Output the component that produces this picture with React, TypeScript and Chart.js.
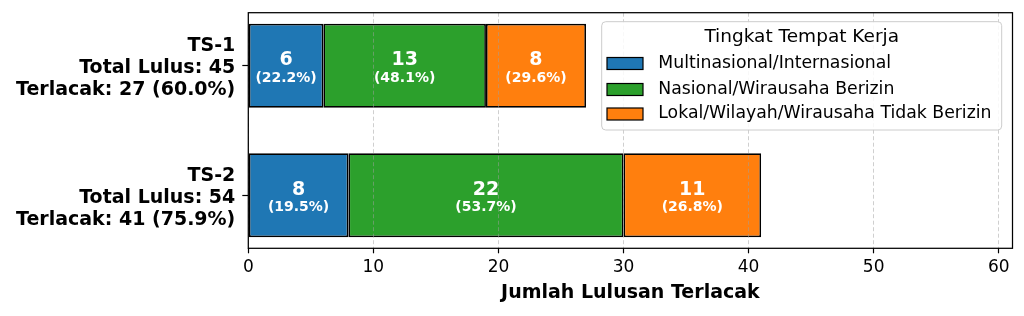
import { useEffect, useRef } from 'react';
import { Chart, registerables } from 'chart.js';

Chart.register(...registerables);

const categories = ['TS-1', 'TS-2'];
const totalLulus = [45, 54];
const seriesNames = [
  'Multinasional/Internasional',
  'Nasional/Wirausaha Berizin',
  'Lokal/Wilayah/Wirausaha Tidak Berizin',
];
const multinasional = [6, 8];
const nasional = [13, 22];
const lokal = [8, 11];
const seriesColors = ['#1f77b4', '#2ca02c', '#ff7f0e'];
const xTickValues = [0, 10, 20, 30, 40, 50, 60];
const xMax = 61.1;
const legendTitle = 'Tingkat Tempat Kerja';
const xTitle = 'Jumlah Lulusan Terlacak';

const FONT = "'DejaVu Sans', sans-serif";

const seriesValues = [multinasional, nasional, lokal];
const tracked = categories.map((_, i) => seriesValues.reduce((s, arr) => s + arr[i], 0));
const yLabels = categories.map((c, i) => [
  c,
  `Total Lulus: ${totalLulus[i]}`,
  `Terlacak: ${tracked[i]} (${((tracked[i] / totalLulus[i]) * 100).toFixed(1)}%)`,
]);

const overlayPlugin = {
  id: 'overlay',
  afterDraw(chart: any) {
    const ctx = chart.ctx as CanvasRenderingContext2D;
    const area = chart.chartArea;
    ctx.save();
    // bar labels
    chart.data.datasets.forEach((ds: any, di: number) => {
      const meta = chart.getDatasetMeta(di);
      meta.data.forEach((el: any, i: number) => {
        const v = seriesValues[di][i];
        const pct = ((v / tracked[i]) * 100).toFixed(1);
        const cx = (el.x + el.base) / 2;
        const cy = el.y;
        ctx.fillStyle = '#ffffff';
        ctx.textAlign = 'center';
        ctx.textBaseline = 'middle';
        ctx.font = `bold 19px ${FONT}`;
        ctx.fillText(String(v), cx, cy - 5.5);
        ctx.font = `bold 14px ${FONT}`;
        ctx.fillText(`(${pct}%)`, cx, cy + 12.2);
      });
    });
    // spines
    ctx.strokeStyle = '#000';
    ctx.lineWidth = 1.25;
    ctx.strokeRect(area.left, area.top, area.right - area.left, area.bottom - area.top);

    // legend
    const lx = 601.7, ly = 21.7, lw = 400, lh = 108.3;
    ctx.beginPath();
    (ctx as any).roundRect(lx, ly, lw, lh, 4);
    ctx.fillStyle = 'rgba(255,255,255,0.85)';
    ctx.fill();
    ctx.strokeStyle = '#cccccc';
    ctx.lineWidth = 1;
    ctx.stroke();
    ctx.fillStyle = '#000';
    ctx.textAlign = 'center';
    ctx.textBaseline = 'middle';
    ctx.font = `18.5px ${FONT}`;
    ctx.fillText(legendTitle, lx + lw / 2, 37);
    const rowY = [63.5, 89.5, 114];
    seriesNames.forEach((name, i) => {
      const y = rowY[i];
      ctx.fillStyle = seriesColors[i];
      ctx.fillRect(607, y - 6, 36, 12);
      ctx.strokeStyle = '#000';
      ctx.lineWidth = 1.2;
      ctx.strokeRect(607, y - 6, 36, 12);
      ctx.fillStyle = '#000';
      ctx.textAlign = 'left';
      ctx.font = `17.3px ${FONT}`;
      ctx.fillText(name, 658.3, y);
    });
    ctx.restore();
  },
};

export default function App() {
  const ref = useRef<HTMLCanvasElement | null>(null);
  useEffect(() => {
    document.body.style.margin = '0';
    if (!ref.current) return;
    const chart = new Chart(ref.current, {
      type: 'bar',
      data: {
        datasets: seriesNames.map((name, di) => ({
          label: name,
          data: seriesValues[di].map((v, i) => ({ x: v, y: i })),
          backgroundColor: seriesColors[di],
          borderColor: '#000',
          borderWidth: 1.7,
          borderSkipped: false,
          categoryPercentage: 0.648,
          barPercentage: 1,
        })),
      } as any,
      options: {
        indexAxis: 'y',
        responsive: false,
        animation: false,
        layout: { padding: { left: 0, top: 12.7, right: 11.5, bottom: 0 } },
        plugins: { legend: { display: false }, tooltip: { enabled: false } },
        scales: {
          x: {
            type: 'linear',
            stacked: true,
            offset: false,
            min: 0,
            max: xMax,
            afterBuildTicks: (s: any) => {
              s.ticks = xTickValues.map((v) => ({ value: v }));
            },
            afterFit: (s: any) => {
              s.height = 67.7;
              s.paddingLeft = 0;
              s.paddingRight = 0;
            },
            ticks: {
              font: { family: FONT, size: 17 },
              color: '#000',
              padding: 4,
              maxRotation: 0,
            },
            grid: {
              offset: false,
              color: 'rgba(160,160,160,0.5)',
              lineWidth: 1,
              z: 1,
              tickColor: '#000',
              tickLength: 5,
              tickWidth: 1.2,
            },
            border: { display: false, dash: [4, 2.5] },
            title: {
              display: true,
              text: xTitle,
              font: { family: FONT, size: 19, weight: 'bold' },
              color: '#000',
              padding: { top: 0, bottom: 12 },
            },
          },
          y: {
            type: 'linear',
            stacked: true,
            reverse: true,
            offset: false,
            min: -0.41,
            max: 1.41,
            afterBuildTicks: (s: any) => {
              s.ticks = categories.map((_, i) => ({ value: i }));
            },
            afterFit: (s: any) => {
              s.width = 248.3;
              s.paddingTop = 0;
              s.paddingBottom = 0;
            },
            ticks: {
              callback: (v: any) => yLabels[Math.round(Number(v))],
              font: { family: FONT, size: 19, weight: 'bold', lineHeight: 1.16 },
              color: '#000',
              padding: 7,
              labelOffset: 2.5,
            },
            grid: {
              offset: false,
              drawOnChartArea: false,
              tickColor: '#000',
              tickLength: 6,
              tickWidth: 1.2,
            },
            border: { display: false },
          },
        },
      } as any,
      plugins: [overlayPlugin],
    });
    return () => chart.destroy();
  }, []);
  return (
    <div style={{ width: 1024, height: 316 }}>
      <canvas ref={ref} width={1024} height={316} />
    </div>
  );
}
